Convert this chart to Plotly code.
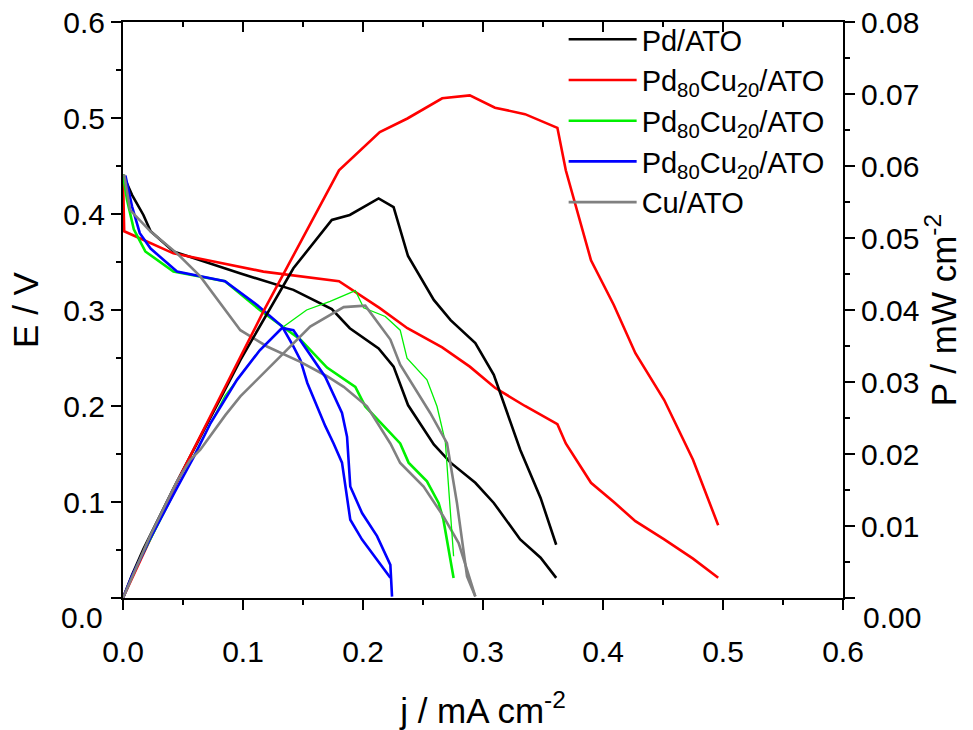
import plotly.graph_objects as go

# ---- Pd/ATO ----
pd_j = [0.0, 0.0075, 0.017, 0.023, 0.042, 0.098, 0.142, 0.174, 0.189, 0.213, 0.2255,
        0.2375, 0.259, 0.273, 0.2936, 0.309, 0.331, 0.348, 0.361]
pd_E = [0.441, 0.420, 0.399, 0.382, 0.361, 0.338, 0.321, 0.301, 0.281, 0.260, 0.241,
        0.201, 0.160, 0.141, 0.120, 0.099, 0.061, 0.042, 0.021]
pd_P = [0.0, 0.0032, 0.0068, 0.0088, 0.0152, 0.0331, 0.0458, 0.0525, 0.0532, 0.0555, 0.0543,
        0.0475, 0.0414, 0.0386, 0.0354, 0.0310, 0.0206, 0.0139, 0.0074]

# ---- Pd80Cu20/ATO (red) ----
red_j = [0.0, 0.001, 0.042, 0.117, 0.180, 0.214, 0.237, 0.266, 0.289, 0.310, 0.335,
         0.362, 0.369, 0.390, 0.409, 0.427, 0.451, 0.475, 0.496]
red_E = [0.438, 0.382, 0.359, 0.340, 0.330, 0.302, 0.281, 0.261, 0.241, 0.219, 0.200,
         0.181, 0.161, 0.120, 0.100, 0.080, 0.061, 0.041, 0.021]
red_P = [0.0, 0.0004, 0.0151, 0.0398, 0.0594, 0.0647, 0.0666, 0.0694, 0.0698, 0.0681, 0.0672,
         0.0653, 0.0594, 0.0469, 0.0407, 0.0340, 0.0275, 0.0192, 0.0101]

# ---- Pd80Cu20/ATO (green) ----
grn_jE = [0.0, 0.0033, 0.009, 0.0186, 0.042, 0.085, 0.114, 0.1325, 0.148, 0.170, 0.1936,
          0.2019, 0.231, 0.238, 0.2533, 0.263, 0.267, 0.2755]
grn_E = [0.441, 0.415, 0.384, 0.361, 0.340, 0.330, 0.300, 0.283, 0.269, 0.240, 0.220,
         0.1996, 0.161, 0.141, 0.1215, 0.099, 0.0816, 0.0208]
grn_jP = [0.0, 0.0033, 0.009, 0.0186, 0.042, 0.085, 0.114, 0.134, 0.153, 0.1726, 0.1936,
          0.2005, 0.2186, 0.231, 0.2367, 0.2533, 0.2617, 0.2686, 0.2755]
grn_P = [0.0, 0.0014, 0.0035, 0.0067, 0.0143, 0.0281, 0.0345, 0.0377, 0.0400, 0.0412, 0.0427,
         0.0403, 0.0391, 0.0372, 0.0333, 0.0303, 0.0266, 0.0217, 0.0058]

# ---- Pd80Cu20/ATO (blue) ----
blu_jE = [0.002, 0.0075, 0.014, 0.023, 0.045, 0.085, 0.112, 0.1325, 0.142, 0.1478, 0.1536,
          0.1686, 0.1755, 0.1825, 0.1894, 0.1992, 0.2228]
blu_E = [0.440, 0.408, 0.380, 0.364, 0.340, 0.330, 0.305, 0.283, 0.262, 0.248, 0.224,
         0.179, 0.161, 0.141, 0.0815, 0.0608, 0.021]
blu_jP = [0.0, 0.0075, 0.014, 0.023, 0.045, 0.059, 0.073, 0.085, 0.095, 0.114, 0.1325,
          0.142, 0.1478, 0.1547, 0.1686, 0.1825, 0.1867, 0.1894, 0.1992, 0.2117, 0.2228, 0.2242]
blu_P = [0.0, 0.0031, 0.0053, 0.0084, 0.0153, 0.0196, 0.0243, 0.0275, 0.0303, 0.0344, 0.0375,
         0.0372, 0.0358, 0.0340, 0.0307, 0.0257, 0.0224, 0.0155, 0.0118, 0.0086, 0.0046, 0.0002]

# ---- Cu/ATO ----
cu_jE = [0.001, 0.006, 0.0228, 0.045, 0.0644, 0.0867, 0.0978, 0.12, 0.1478, 0.170, 0.1839,
         0.2033, 0.2228, 0.231, 0.2505, 0.267, 0.2797, 0.2936]
cu_E = [0.441, 0.404, 0.382, 0.359, 0.335, 0.297, 0.279, 0.262, 0.246, 0.231, 0.220,
        0.1996, 0.161, 0.1406, 0.116, 0.085, 0.0573, 0.0017]
cu_jP = [0.0, 0.0228, 0.045, 0.0561, 0.0644, 0.0853, 0.0978, 0.12, 0.1478, 0.156, 0.1839,
         0.2019, 0.2228, 0.231, 0.256, 0.270, 0.2783, 0.2867, 0.2936]
cu_P = [0.0, 0.0087, 0.0162, 0.0192, 0.0206, 0.0254, 0.0280, 0.0317, 0.0362, 0.0377, 0.0404,
        0.0406, 0.0359, 0.0324, 0.0257, 0.0215, 0.0132, 0.0030, 0.0002]

# ---- axis ticks ----
j_ticks = [0.0, 0.1, 0.2, 0.3, 0.4, 0.5, 0.6]
j_labels = ["0.0", "0.1", "0.2", "0.3", "0.4", "0.5", "0.6"]
E_ticks = [0.0, 0.1, 0.2, 0.3, 0.4, 0.5, 0.6]
E_labels = ["", "0.1", "0.2", "0.3", "0.4", "0.5", "0.6"]
P_ticks = [0.0, 0.01, 0.02, 0.03, 0.04, 0.05, 0.06, 0.07, 0.08]
P_labels = ["", "0.01", "0.02", "0.03", "0.04", "0.05", "0.06", "0.07", "0.08"]

FONT = "Arial, 'Liberation Sans', sans-serif"
TICK_SIZE = 30
LW = 2.6

series = [
    ("Pd/ATO", "#000000", pd_j, pd_E, pd_j, pd_P, LW),
    ("Pd<sub>80</sub>Cu<sub>20</sub>/ATO", "#FF0000", red_j, red_E, red_j, red_P, LW),
    ("Pd<sub>80</sub>Cu<sub>20</sub>/ATO", "#00F000", grn_jE, grn_E, grn_jP, grn_P, 1.3),
    ("Pd<sub>80</sub>Cu<sub>20</sub>/ATO", "#0000FF", blu_jE, blu_E, blu_jP, blu_P, LW),
    ("Cu/ATO", "#808080", cu_jE, cu_E, cu_jP, cu_P, LW),
]

fig = go.Figure()
for i, (name, color, jE, E, jP, P, pw) in enumerate(series):
    fig.add_trace(go.Scatter(x=jE, y=E, mode="lines", name=name,
                             line=dict(color=color, width=LW),
                             legendgroup=f"g{i}", xaxis="x", yaxis="y"))
for i, (name, color, jE, E, jP, P, pw) in enumerate(series):
    fig.add_trace(go.Scatter(x=jP, y=P, mode="lines", name=name, showlegend=False,
                             line=dict(color=color, width=pw),
                             legendgroup=f"g{i}", xaxis="x", yaxis="y2"))
# helper so the top frame axis is rendered
fig.add_trace(go.Scatter(x=[None], y=[None], xaxis="x2", yaxis="y",
                         showlegend=False, hoverinfo="skip"))

axis_common = dict(showline=True, linewidth=2, linecolor="black", ticks="outside",
                   ticklen=10, tickwidth=2, tickcolor="black", showgrid=False,
                   zeroline=False, automargin=False,
                   tickfont=dict(family=FONT, size=TICK_SIZE, color="black"))
minor_common = dict(ticks="outside", ticklen=5, tickwidth=2, tickcolor="black", showgrid=False)

fig.update_layout(
    width=973, height=730,
    margin=dict(l=123, r=130, t=22, b=132),
    paper_bgcolor="white", plot_bgcolor="white",
    font=dict(family=FONT, color="black"),
    xaxis=dict(range=[0, 0.6], tickvals=j_ticks, ticktext=j_labels,
               minor=dict(dtick=0.05, **minor_common),
               title=dict(text="j / mA cm<sup>-2</sup>", font=dict(size=35), standoff=32),
               ticklabelstandoff=16, **axis_common),
    xaxis2=dict(range=[0, 0.6], overlaying="x", side="top", anchor="y",
                showline=True, linewidth=2, linecolor="black", ticks="inside",
                ticklen=10, tickwidth=2, tickcolor="black", tickvals=j_ticks,
                showticklabels=False, showgrid=False, zeroline=False, automargin=False,
                minor=dict(dtick=0.05, ticks="inside", ticklen=5, tickwidth=2,
                           tickcolor="black", showgrid=False)),
    yaxis=dict(range=[0, 0.6], tickvals=E_ticks, ticktext=E_labels,
               minor=dict(dtick=0.05, **minor_common),
               title=dict(text="E / V", font=dict(size=35), standoff=14),
               **axis_common),
    yaxis2=dict(range=[0, 0.08], overlaying="y", side="right", anchor="x",
                tickvals=P_ticks, ticktext=P_labels,
                minor=dict(dtick=0.005, **minor_common),
                title=dict(text="P / mW cm<sup>-2</sup>", font=dict(size=35), standoff=10),
                **axis_common),
    legend=dict(x=0.612, y=1.014, xanchor="left", yanchor="top",
                bgcolor="rgba(0,0,0,0)", borderwidth=0,
                font=dict(family=FONT, size=29, color="black"),
                itemwidth=68, tracegroupgap=0),
    showlegend=True,
)

# zero labels of both value axes sit a little below the axis corner
fig.add_annotation(text="0.0", xref="paper", x=0, xanchor="right", xshift=-18,
                   yref="y", y=0, yanchor="middle", yshift=-19, showarrow=False,
                   font=dict(family=FONT, size=TICK_SIZE, color="black"))
fig.add_annotation(text="0.00", xref="paper", x=1, xanchor="left", xshift=18,
                   yref="y", y=0, yanchor="middle", yshift=-19, showarrow=False,
                   font=dict(family=FONT, size=TICK_SIZE, color="black"))

fig.write_html("out.html")
